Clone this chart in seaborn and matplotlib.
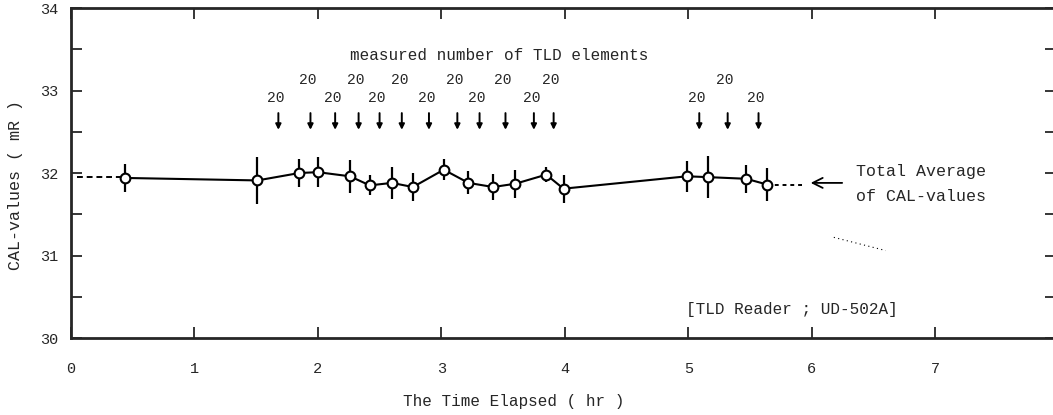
import numpy as np
import pandas as pd
import matplotlib
matplotlib.use("Agg")
import matplotlib.pyplot as plt
import seaborn as sns
from matplotlib.ticker import MultipleLocator

# valeurs
temps = [0.44, 1.51, 1.85, 2.00, 2.26, 2.42, 2.60, 2.77, 3.02, 3.22, 3.42, 3.60, 3.85, 3.99,
         4.99, 5.16, 5.47, 5.64]
cal = [31.94, 31.91, 32.00, 32.01, 31.96, 31.85, 31.88, 31.83, 32.04, 31.88, 31.83, 31.87,
       31.98, 31.81, 31.96, 31.95, 31.93, 31.86]
err = [0.17, 0.28, 0.17, 0.18, 0.20, 0.12, 0.19, 0.17, 0.13, 0.14, 0.16, 0.17, 0.09, 0.17,
       0.19, 0.25, 0.17, 0.20]

# positions des fleches (nombre de TLD mesures)
fleches = [1.68, 1.94, 2.14, 2.33, 2.50, 2.68, 2.90, 3.13, 3.31, 3.52, 3.75, 3.91,
           5.09, 5.32, 5.57]
nombres = [20] * len(fleches)

moyenne_gauche = 31.95
moyenne_droite = 31.86
moyenne_fleche = 31.88

df = pd.DataFrame({"t": temps, "cal": cal, "err": err})

sns.set_style("ticks")
plt.rcParams["font.family"] = ["Liberation Mono", "DejaVu Sans Mono"]

fig = plt.figure(figsize=(10.53, 4.15), dpi=100)
ax = fig.add_axes([71 / 1053, 1 - 338 / 415, 985 / 1053, 330 / 415])

ax.errorbar(df["t"], df["cal"], yerr=df["err"], fmt="none", ecolor="black", elinewidth=1.6,
            capsize=0, zorder=2)
sns.lineplot(data=df, x="t", y="cal", ax=ax, color="black", linewidth=1.5, marker="o",
             markersize=7, markerfacecolor="white", markeredgecolor="black",
             markeredgewidth=1.5, zorder=3)

# lignes de moyenne
ax.plot([0.05, temps[0]], [moyenne_gauche, moyenne_gauche], color="black", lw=1.4,
        ls=(0, (3, 2)), zorder=1)
ax.plot([temps[-1], 5.92], [moyenne_droite, moyenne_droite], color="black", lw=1.4,
        ls=(0, (2, 2)), zorder=1)
ax.annotate("", xy=(5.97, moyenne_fleche), xytext=(6.27, moyenne_fleche),
            arrowprops=dict(arrowstyle="->", color="black", lw=1.3, mutation_scale=18))
ax.text(6.36, 32.02, "Total Average", fontsize=12, va="center", ha="left")
ax.text(6.36, 31.72, "of CAL-values", fontsize=12, va="center", ha="left")

# fleches et nombres (deux rangees alternees)
for i, (x, n) in enumerate(zip(fleches, nombres)):
    ax.annotate("", xy=(x, 32.49), xytext=(x, 32.76),
                arrowprops=dict(arrowstyle="-|>", color="black", lw=1.4, mutation_scale=8))
    if i < 12:
        y_txt = 32.91 if i % 2 == 0 else 33.13
    else:
        y_txt = 33.13 if i == 13 else 32.91
    ax.text(x - 0.02, y_txt, str(n), fontsize=10.5, ha="center", va="center")

ax.text(3.47, 33.43, "measured number of TLD elements", fontsize=11.5, ha="center",
        va="center")
ax.text(4.98, 30.34, "[TLD Reader ; UD-502A]", fontsize=11.5, ha="left", va="center")

# trace parasite du scan
ax.plot([6.18, 6.6], [31.22, 31.06], color="black", lw=0.8, ls=(0, (1, 3)))

ax.set_xlim(0, 7.98)
ax.set_ylim(30, 34)
ax.set_xticks(range(0, 8))
ax.set_yticks([30, 31, 32, 33, 34])
ax.yaxis.set_minor_locator(MultipleLocator(0.5))
ax.tick_params(axis="both", which="both", direction="in", length=8, width=1.3,
               labelsize=11, top=True, right=True, bottom=True, left=True)
ax.tick_params(axis="x", pad=17, top=True)
ax.tick_params(axis="y", pad=9)
ax.tick_params(axis="x", which="minor", length=0)
for side in ["left", "bottom", "top"]:
    ax.spines[side].set_linewidth(2)
    ax.spines[side].set_visible(True)
ax.spines["right"].set_visible(False)

ax.set_xlabel("The Time Elapsed ( hr )", fontsize=11.5)
ax.set_ylabel("CAL-values ( mR )", fontsize=12)
ax.xaxis.set_label_coords(0.449, -0.17)
ax.yaxis.set_label_coords(-0.049, 0.464)

fig.savefig("out.png", dpi=100)
